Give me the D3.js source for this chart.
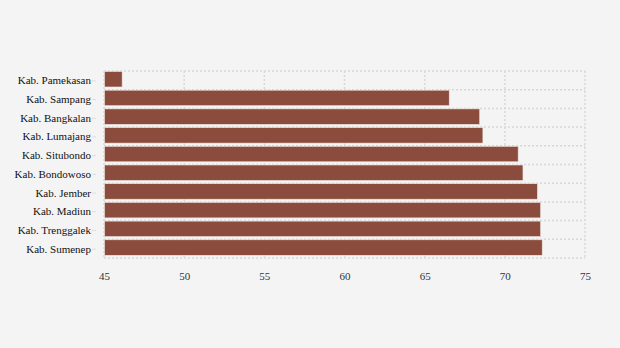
<!DOCTYPE html>
<html>
<head>
<meta charset="utf-8">
<script src="https://cdn.jsdelivr.net/npm/d3@7"></script>
<style>
  body { margin: 0; background: #f4f4f4; }
</style>
</head>
<body>
<div id="chart"></div>
<script>
// Data
const regions = ["Kab. Pamekasan", "Kab. Sampang", "Kab. Bangkalan", "Kab. Lumajang", "Kab. Situbondo",
  "Kab. Bondowoso", "Kab. Jember", "Kab. Madiun", "Kab. Trenggalek", "Kab. Sumenep"];
const values = [46.1, 66.5, 68.4, 68.6, 70.8, 71.1, 72.0, 72.2, 72.2, 72.3];
const xTicks = [45, 50, 55, 60, 65, 70, 75];

const W = 620, H = 348;
const margin = { top: 71, right: 35, bottom: 90, left: 104 };
const width = W - margin.left - margin.right;
const height = H - margin.top - margin.bottom;
const serif = "'Liberation Serif', 'Times New Roman', Times, serif";

const svg = d3.select("#chart").append("svg")
  .attr("width", W).attr("height", H)
  .style("background", "#f4f4f4");

const g = svg.append("g").attr("transform", `translate(${margin.left},${margin.top})`);

const x = d3.scaleLinear().domain([45, 75]).range([0, width]);
const step = height / regions.length;

// grid
g.append("g").selectAll("line")
  .data(d3.range(regions.length + 1))
  .join("line")
  .attr("x1", 0).attr("x2", width)
  .attr("y1", i => i * step).attr("y2", i => i * step)
  .attr("stroke", "#d8d8d8").attr("stroke-width", 1.5).attr("stroke-dasharray", "2,2");

g.append("g").selectAll("line")
  .data(xTicks)
  .join("line")
  .attr("x1", d => x(d)).attr("x2", d => x(d))
  .attr("y1", 0).attr("y2", height)
  .attr("stroke", "#d8d8d8").attr("stroke-width", 1.5).attr("stroke-dasharray", "2,2");

// bars
g.selectAll("rect.bar")
  .data(regions)
  .join("rect")
  .attr("class", "bar")
  .attr("x", x(45) + 0.5)
  .attr("y", (d, i) => i * step + 0.5)
  .attr("width", (d, i) => x(values[i]) - x(45))
  .attr("height", step - 3.2)
  .attr("fill", "#8b4c3e")
  .attr("stroke", "#f0e6e2")
  .attr("stroke-width", 0.6);

// y labels
const yAxis = g.append("g")
  .attr("font-family", serif).attr("font-size", 11)
  .call(d3.axisLeft(d3.scalePoint().domain(regions).range([step / 2, height - step / 2])).tickSize(4).tickPadding(5));
yAxis.attr("font-family", serif).attr("font-size", 11);
yAxis.select(".domain").remove();
yAxis.selectAll(".tick line").attr("stroke", "#ddd").attr("transform", "translate(-8,0)");
yAxis.selectAll(".tick text").attr("fill", "#111").attr("x", -13)
  .style("font-family", serif).style("font-size", "11px");

// x labels
const xAxis = g.append("g")
  .attr("transform", `translate(0,${height})`)
  .call(d3.axisBottom(x).tickValues(xTicks).tickSize(0).tickPadding(14));
xAxis.attr("font-family", serif).attr("font-size", 11);
xAxis.select(".domain").remove();
xAxis.selectAll(".tick text").attr("fill", "#333")
  .style("font-family", serif).style("font-size", "11px");
</script>
</body>
</html>
